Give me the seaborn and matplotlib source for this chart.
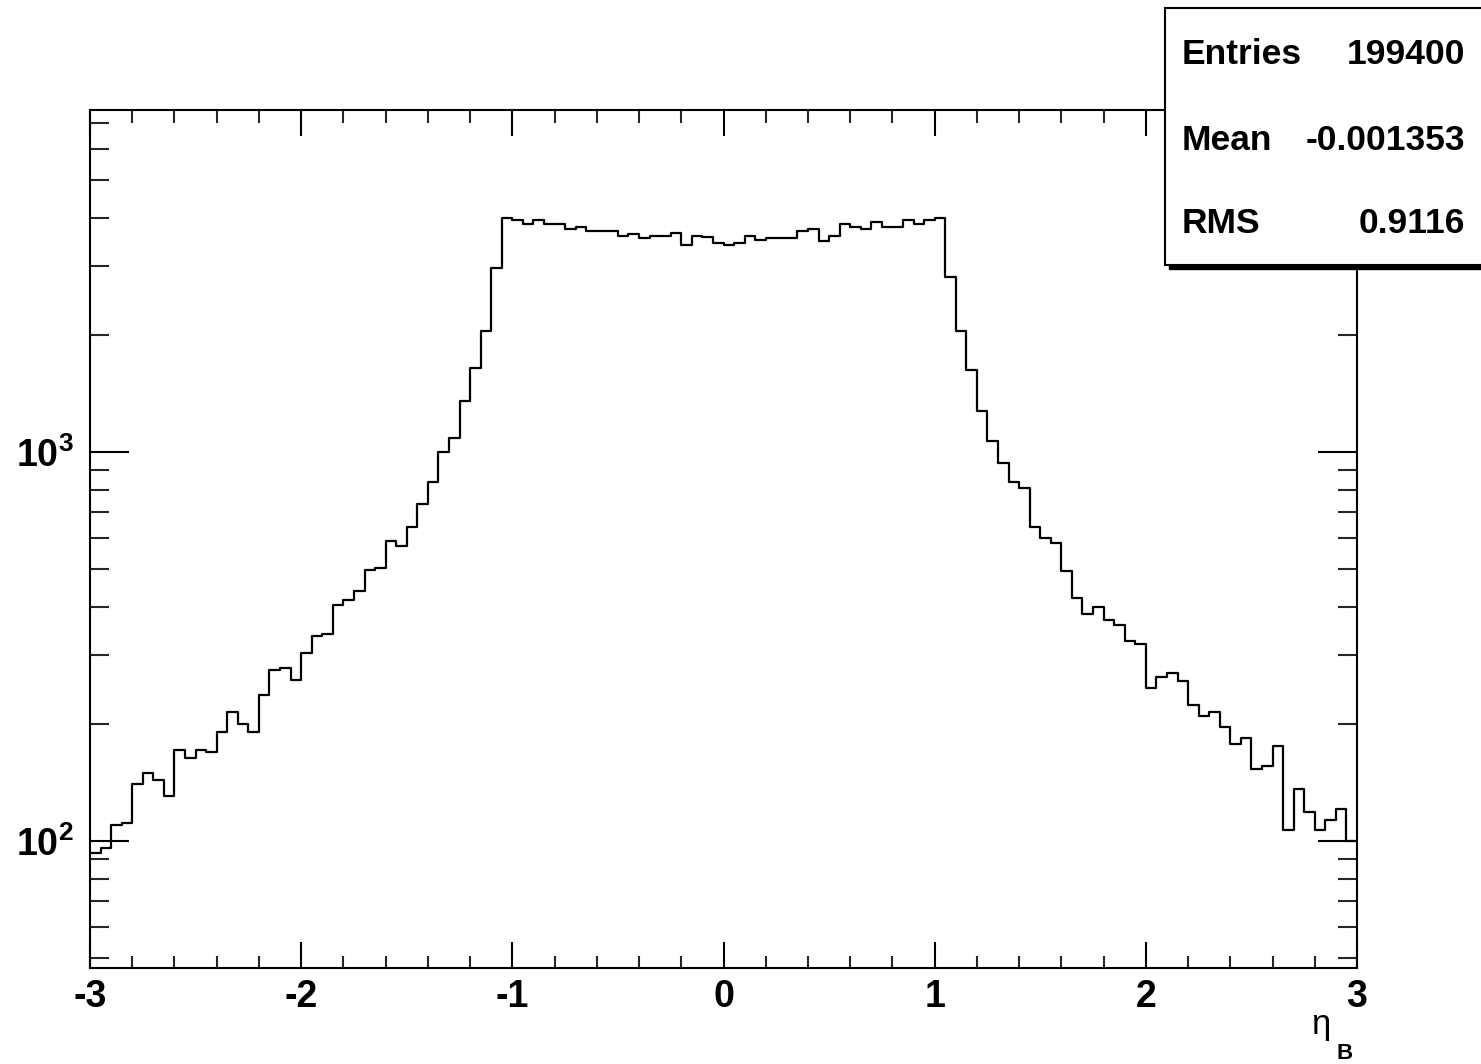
import numpy as np
import pandas as pd
import matplotlib
matplotlib.use("Agg")
import matplotlib.pyplot as plt
import seaborn as sns
from matplotlib.ticker import FixedLocator, MultipleLocator, NullFormatter, FuncFormatter
from matplotlib.patches import Rectangle

# Histogram binning: 120 bins of width 0.05 in eta
eta_lo, eta_hi, n_bins = -3.0, 3.0, 120

# Bin contents, left to right
counts = [
    93, 96, 110, 111, 140, 150, 144, 131, 171, 164,
    171, 169, 191, 215, 200, 191, 237, 275, 278, 260,
    305, 336, 340, 405, 416, 439, 497, 503, 591, 575,
    640, 735, 839, 1000, 1084, 1350, 1644, 2047, 2977, 4002,
    3948, 3848, 3948, 3848, 3848, 3744, 3795, 3706, 3706, 3706,
    3585, 3640, 3543, 3585, 3585, 3649, 3405, 3590, 3560, 3451,
    3405, 3451, 3597, 3501, 3555, 3555, 3555, 3700, 3750, 3493,
    3597, 3848, 3795, 3744, 3902, 3795, 3795, 3948, 3848, 3955,
    4002, 2826, 2047, 1625, 1272, 1069, 935, 839, 807, 640,
    600, 583, 495, 422, 383, 400, 370, 359, 326, 322,
    247, 264, 271, 258, 224, 210, 215, 196, 178, 184,
    153, 156, 176, 107, 136, 119, 107, 113, 121, 100,
]

# Statistics box
stat_names = ["Entries", "Mean", "RMS"]
stat_values = ["199400", "-0.001353", "0.9116"]

x_ticks = [-3, -2, -1, 0, 1, 2, 3]
y_major = [100, 1000]
y_minor = [50, 60, 70, 80, 90, 200, 300, 400, 500, 600, 700, 800, 900,
           2000, 3000, 4000, 5000, 6000, 7000]
y_range = (47.2, 7570)

edges = np.linspace(eta_lo, eta_hi, n_bins + 1)
centers = 0.5 * (edges[:-1] + edges[1:])
df = pd.DataFrame({"eta": centers, "entries": counts})

sns.set_theme(style="white")
plt.rcParams["font.family"] = ["Liberation Sans", "DejaVu Sans"]
plt.rcParams["axes.unicode_minus"] = False
plt.rcParams["mathtext.fontset"] = "custom"
plt.rcParams["mathtext.rm"] = "Liberation Sans"
plt.rcParams["mathtext.bf"] = "Liberation Sans:bold"
plt.rcParams["mathtext.it"] = "Liberation Sans:italic"

W, H = 1481, 1064
fig = plt.figure(figsize=(W / 100, H / 100), dpi=100)
fig.patch.set_facecolor("white")
ax = fig.add_axes([90 / W, 1 - 968 / H, (1357 - 90) / W, (968 - 110) / H])
ax.set_facecolor("white")

sns.histplot(data=df, x="eta", weights="entries", bins=n_bins,
             binrange=(eta_lo, eta_hi), element="step", fill=False,
             color="black", linewidth=1.6, ax=ax)

ax.set_yscale("log")
ax.set_xlim(eta_lo, eta_hi)
ax.set_ylim(*y_range)
ax.set_xlabel("")
ax.set_ylabel("")

for sp in ax.spines.values():
    sp.set_visible(True)
    sp.set_linewidth(1.5)
    sp.set_color("black")

ax.xaxis.set_major_locator(FixedLocator(x_ticks))
ax.xaxis.set_minor_locator(MultipleLocator(0.2))
ax.xaxis.set_major_formatter(FuncFormatter(lambda v, p: "%d" % round(v)))
ax.yaxis.set_major_locator(FixedLocator(y_major))
ax.yaxis.set_minor_locator(FixedLocator(y_minor))
ax.yaxis.set_major_formatter(FuncFormatter(
    lambda v, p: r"$\mathbf{10^{%d}}$" % round(np.log10(v))))
ax.yaxis.set_minor_formatter(NullFormatter())

ax.tick_params(axis="x", which="major", direction="in", length=18.5, width=1.5,
               top=True, bottom=True, labelsize=27, pad=8, colors="black")
ax.tick_params(axis="x", which="minor", direction="in", length=9, width=1.5,
               top=True, bottom=True)
ax.tick_params(axis="y", which="major", direction="in", length=28, width=1.5,
               left=True, right=True, labelsize=27, pad=12, colors="black")
ax.tick_params(axis="y", which="minor", direction="in", length=14, width=1.5,
               left=True, right=True)
for lab in ax.get_xticklabels() + ax.get_yticklabels():
    lab.set_fontweight("bold")

# Axis title: eta with subscript B
fig.text(1311 / W, 1 - 1034 / H, "η", fontsize=25, ha="left", va="baseline",
         color="black")
fig.text(1336 / W, 1 - 1059 / H, "B", fontsize=16, fontweight="bold",
         ha="left", va="baseline", color="black")

# Statistics box with drop shadow
bx0, by0, bx1, by1 = 1165, 8, 1490, 265
shadow = Rectangle(((bx0 + 4) / W, 1 - (by1 + 4) / H), (bx1 - bx0) / W,
                   (by1 - by0) / H, transform=fig.transFigure,
                   facecolor="black", edgecolor="black", zorder=10)
box = Rectangle((bx0 / W, 1 - by1 / H), (bx1 - bx0) / W, (by1 - by0) / H,
                transform=fig.transFigure, facecolor="white",
                edgecolor="black", linewidth=1.5, zorder=11)
fig.add_artist(shadow)
fig.add_artist(box)

baselines = [64, 150, 233]
for name, val, yb in zip(stat_names, stat_values, baselines):
    fig.text(1182 / W, 1 - yb / H, name, fontsize=25.5, fontweight="bold",
             ha="left", va="baseline", color="black", zorder=12)
    fig.text(1465 / W, 1 - yb / H, val, fontsize=25.5, fontweight="bold",
             ha="right", va="baseline", color="black", zorder=12)

fig.savefig("out.png", dpi=100, facecolor="white")
